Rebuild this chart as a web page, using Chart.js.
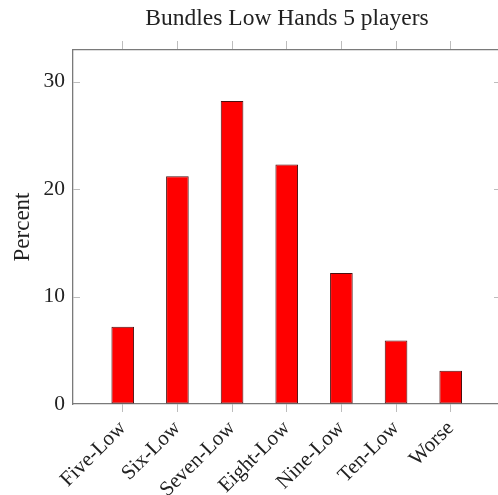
<!DOCTYPE html>
<html>
<head>
<meta charset="utf-8">
<script src="https://cdn.jsdelivr.net/npm/chart.js@4"></script>
<style>
  html, body { margin: 0; padding: 0; background: #fff; overflow: hidden; }
  #wrap { width: 574px; height: 495px; }
</style>
</head>
<body>
<div id="wrap"><canvas id="c" width="574" height="495"></canvas></div>
<script>
const categories = ["Five-Low", "Six-Low", "Seven-Low", "Eight-Low", "Nine-Low", "Ten-Low", "Worse"];
const percentValues = [7.2, 21.2, 28.2, 22.3, 12.2, 5.9, 3.1];
const yTickValues = [0, 10, 20, 30];
const chartTitle = "Bundles Low Hands 5 players";
const yAxisTitle = "Percent";

const FONT = "'Liberation Serif', 'Times New Roman', serif";
const TEXT = "#222";
const FRAME = "#7a7a7a";
const TICKC = "#bdbdbd";
const xMin = -0.91, xMax = 6.92, yMax = 32.95;

const xTickList = () => categories.map((c, i) => ({ value: i }));

const innerTicks = {
  id: 'innerTicks',
  afterDraw(chart) {
    const { ctx, chartArea, scales } = chart;
    ctx.save();
    ctx.strokeStyle = TICKC;
    ctx.lineWidth = 1;
    yTickValues.forEach(v => {
      const py = Math.round(scales.y.getPixelForValue(v)) + 0.5;
      if (v === 0) return;
      ctx.beginPath();
      ctx.moveTo(chartArea.left, py); ctx.lineTo(chartArea.left + 7, py);
      ctx.moveTo(chartArea.right, py); ctx.lineTo(chartArea.right - 7, py);
      ctx.stroke();
    });
    ctx.restore();
  }
};

new Chart(document.getElementById('c'), {
  type: 'bar',
  data: {
    datasets: [{
      data: percentValues.map((v, i) => ({ x: i, y: v })),
      backgroundColor: '#ff0000',
      borderColor: '#4a1010',
      borderWidth: 1,
      borderSkipped: false,
      barPercentage: 0.414,
      categoryPercentage: 1,
      xAxisID: 'x',
      yAxisID: 'y'
    }]
  },
  options: {
    responsive: false,
    animation: false,
    devicePixelRatio: 1,
    layout: { padding: 0 },
    plugins: {
      legend: { display: false },
      tooltip: { enabled: false },
      title: {
        display: true,
        text: chartTitle,
        color: TEXT,
        font: { family: FONT, size: 23.5, weight: 'normal', lineHeight: 1 },
        padding: { top: 7, bottom: 0 }
      }
    },
    scales: {
      x: {
        type: 'linear',
        position: 'bottom',
        offset: false,
        min: xMin, max: xMax,
        afterBuildTicks: s => { s.ticks = xTickList(); },
        afterFit: s => { s.height = 91; },
        ticks: {
          autoSkip: false,
          maxRotation: 45, minRotation: 45,
          padding: 4,
          color: TEXT,
          font: { family: FONT, size: 21 },
          callback: v => categories[v]
        },
        grid: { offset: false, drawOnChartArea: false, drawTicks: true, tickLength: 8, tickColor: TICKC, color: TICKC },
        border: { display: true, color: FRAME, width: 1.3 }
      },
      x2: {
        type: 'linear',
        position: 'top',
        offset: false,
        min: xMin, max: xMax,
        afterBuildTicks: s => { s.ticks = xTickList(); },
        afterFit: s => { s.height = 19.5; },
        ticks: { display: false },
        grid: { offset: false, drawOnChartArea: false, drawTicks: true, tickLength: 9, tickColor: TICKC, color: TICKC },
        border: { display: true, color: FRAME, width: 1.3 }
      },
      y: {
        type: 'linear',
        position: 'left',
        min: 0, max: yMax,
        afterBuildTicks: s => { s.ticks = yTickValues.map(v => ({ value: v })); },
        afterFit: s => { s.width = 73; },
        ticks: { color: TEXT, padding: 8, font: { family: FONT, size: 21.5 } },
        grid: { display: true, drawOnChartArea: false, drawTicks: false },
        border: { display: true, color: FRAME, width: 1.3 },
        title: {
          display: true,
          text: yAxisTitle,
          color: TEXT,
          font: { family: FONT, size: 23, lineHeight: 1 },
          padding: { top: 11, bottom: 0 }
        }
      },
      y2: {
        type: 'linear',
        position: 'right',
        min: 0, max: yMax,
        afterBuildTicks: s => { s.ticks = yTickValues.map(v => ({ value: v })); },
        afterFit: s => { s.width = 73; },
        ticks: { display: false },
        grid: { display: true, drawOnChartArea: false, drawTicks: false },
        border: { display: true, color: FRAME, width: 1.3 }
      }
    }
  },
  plugins: [innerTicks]
});
</script>
</body>
</html>
